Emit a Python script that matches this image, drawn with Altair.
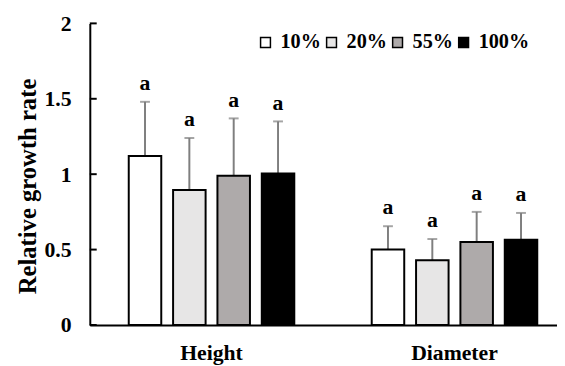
import altair as alt
import pandas as pd

groups = ["Height", "Diameter"]
series = ["10%", "20%", "55%", "100%"]
height_means = [1.12, 0.895, 0.99, 1.005]
height_sd = [0.36, 0.345, 0.38, 0.345]
diameter_means = [0.50, 0.43, 0.55, 0.565]
diameter_sd = [0.155, 0.14, 0.20, 0.178]
height_letters = ["a", "a", "a", "a"]
diameter_letters = ["a", "a", "a", "a"]
colors = ["#ffffff", "#e7e6e6", "#aeaaaa", "#000000"]
y_ticks = [0, 0.5, 1, 1.5, 2]

rows = []
for g, means, sds, letters in [
    ("Height", height_means, height_sd, height_letters),
    ("Diameter", diameter_means, diameter_sd, diameter_letters),
]:
    for s, m, sd, l in zip(series, means, sds, letters):
        rows.append({"group": g, "series": s, "mean": m, "top": m + sd, "label": l})
df = pd.DataFrame(rows)
ticks_df = pd.DataFrame({"v": y_ticks})

FONT = "Liberation Serif"
YTITLE = "Relative growth rate"

x_enc = alt.X(
    "group:N",
    sort=groups,
    scale=alt.Scale(paddingInner=0.27, paddingOuter=0.0964, align=0.705),
    axis=alt.Axis(
        title=None, labelAngle=0, ticks=False, tickSize=0, labelPadding=18,
        labelFont=FONT, labelFontSize=22, labelFontWeight="bold", labelColor="black",
        domainColor="black", domainWidth=2,
    ),
)
xoff = alt.XOffset("series:N", sort=series,
                   scale=alt.Scale(paddingInner=0.2667, paddingOuter=0.1333))
y_scale = alt.Scale(domain=[0, 2], nice=False, zero=True)

base = alt.Chart(df)

err = base.mark_rule(color="#7f7f7f", strokeWidth=2).encode(
    x=x_enc, xOffset=xoff,
    y=alt.Y("mean:Q", scale=y_scale, title=YTITLE), y2="top:Q",
)
cap = base.mark_tick(color="#7f7f7f", thickness=2, size=10).encode(
    x=x_enc, xOffset=xoff, y=alt.Y("top:Q", scale=y_scale, title=YTITLE),
)
bars = base.mark_bar(stroke="black", strokeWidth=2).encode(
    x=x_enc,
    xOffset=xoff,
    y=alt.Y(
        "mean:Q", scale=y_scale, title=YTITLE,
        axis=alt.Axis(
            values=y_ticks, format="~g", grid=False, ticks=False, tickSize=0, labelPadding=19,
            labelFont=FONT, labelFontSize=22, labelFontWeight="bold", labelColor="black",
            domainColor="black", domainWidth=2,
            titleFont=FONT, titleFontSize=25, titleFontWeight="bold", titleColor="black",
            titleAngle=270, titleX=-63.5, titleY=165, titleAlign="center",
            titleBaseline="middle",
        ),
    ),
    fill=alt.Fill(
        "series:N",
        scale=alt.Scale(domain=series, range=colors),
        legend=alt.Legend(
            orient="none", legendX=168, legendY=9, direction="horizontal",
            columns=4, title=None, symbolType="square", symbolSize=100,
            symbolStrokeColor="black", symbolStrokeWidth=1.5, symbolOpacity=1,
            labelFont=FONT, labelFontSize=20.5, labelFontWeight="bold", labelColor="black",
            labelOffset=5, columnPadding=0, padding=0,
        ),
    ),
)
letters = base.mark_text(
    dy=-12, baseline="alphabetic", font=FONT, fontSize=22, fontWeight="bold", color="black"
).encode(
    x=x_enc, xOffset=xoff, y=alt.Y("top:Q", scale=y_scale, title=YTITLE), text="label:N",
)
yticks = alt.Chart(ticks_df).mark_rule(color="black", strokeWidth=2).encode(
    y=alt.Y("v:Q", scale=y_scale, title=YTITLE), x=alt.value(0), x2=alt.value(7),
)

chart = alt.layer(err, cap, bars, letters, yticks).properties(
    width=474, height=306,
    autosize=alt.AutoSizeParams(type="none"),
    padding={"left": 83, "top": 13, "right": 0, "bottom": 39},
    background="white",
).configure_view(stroke=None)

chart.save("out.html", embed_options={"renderer": "svg", "actions": False})
